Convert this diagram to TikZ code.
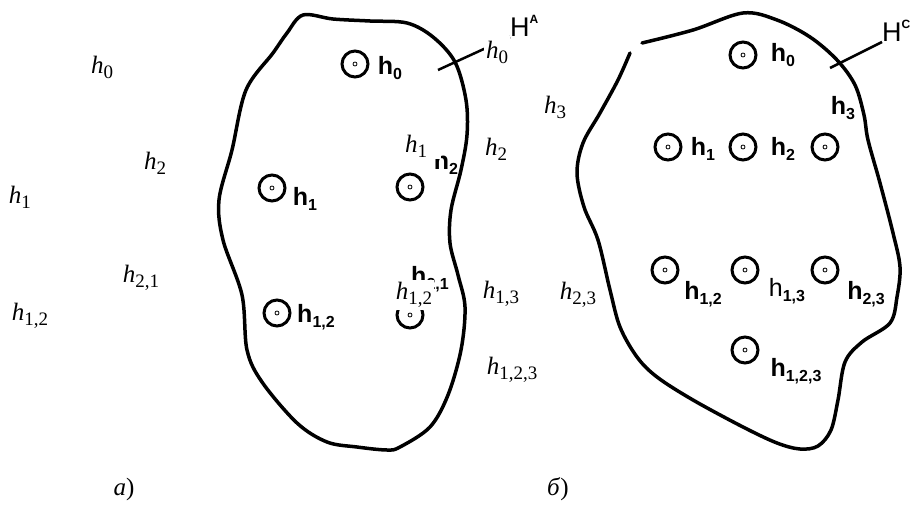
\documentclass[tikz,border=0pt]{standalone}
\usepackage{fontspec}
\setmainfont{Liberation Serif}
\newfontfamily\cadfont{Liberation Sans}
\usetikzlibrary{positioning}

% printed labels: italic h with a lowered index
\newcommand{\hs}[1]{\textit{h}\raisebox{-0.2em}{\fontsize{19}{19}\selectfont #1}}
% stencil labels inside the regions
\newcommand{\hc}[1]{h\raisebox{-0.22em}{\fontsize{16}{16}\selectfont #1}}

\begin{document}
\begin{tikzpicture}[x=1pt, y=-1pt,
    blob/.style={line width=3.5pt, line join=round, line cap=round},
    site/.style={circle, draw, line width=3pt, minimum size=26pt, inner sep=0pt,
      path picture={\draw[line width=0.8pt] (path picture bounding box.center) circle (2pt);}},
    cad/.style={font=\cadfont\bfseries\fontsize{25}{25}\selectfont, inner sep=0pt},
    lbl/.style={fill=white, inner sep=2pt, font=\fontsize{25}{25}\selectfont},
    leader/.style={line width=2.5pt}]
    \useasboundingbox (0,0) rectangle (918,506);

    % region a)
    \draw[blob] plot[smooth cycle, tension=0.55] coordinates {
      (303,15) (333,19) (370,21) (407,23) (433,37) (455,62) (466,100) (467,135)
      (461,170) (451,210) (450,243) (458,275) (465,307) (461,350) (448,395)
      (430,427) (400,447) (387,450) (357,447) (327,442) (297,423) (262,382)
      (247,350) (242,295) (223,240) (219,200) (232,150) (246,90) (273,53) (287,33)};

    \node[site] (a0) at (355,64) {};
    \node[site] (a1) at (272,188) {};
    \node[site] (a2) at (410,187) {};
    \node[site] (a12) at (277,313) {};
    \node[site] (a21) at (410,315) {};

    \node[cad] (ha0) at (390,68) {\hc{0}};
    \node[cad] (ha1) at (305,199) {\hc{1}};
    \node[cad] (ha2) at (446,163) {\hc{2}};
    \node[cad] (ha12) at (316,317) {\hc{1,2}};
    \node[cad] (ha21) at (430,279) {\hc{2,1}};
    \node[cad, font=\cadfont\fontsize{27}{27}\selectfont, anchor=south west] (HA) at (510,37)
      {H\raisebox{0.5em}{\fontsize{12}{12}\selectfont\bfseries A}};
    \coordinate (tA) at (438,70);
    \draw[leader] (tA) -- (HA.south west);

    % region b)
    \draw[blob] plot[smooth, tension=0.55] coordinates {
      (642,43) (693,30) (743,13) (777,20) (810,37) (837,60) (855,85) (864,115)
      (868,140) (880,183) (893,233) (900,267) (897,297) (890,323) (862,342)
      (845,362) (838,400) (831,430) (818,446) (800,449) (777,443) (743,427)
      (693,400) (657,377) (637,357) (620,327) (610,290) (598,240) (584,207)
      (577,173) (583,143) (600,113) (618,80) (630,53)};

    \node[site] (b0) at (743,55) {};
    \node[site] (b1) at (668,147) {};
    \node[site] (b2) at (743,147) {};
    \node[site] (b3) at (825,147) {};
    \node[site] (b12) at (665,270) {};
    \node[site] (b13) at (745,270) {};
    \node[site] (b23) at (825,270) {};
    \node[site] (b123) at (745,350) {};

    \node[cad] (hb0) at (783,55) {\hc{0}};
    \node[cad] (hb1) at (703,149) {\hc{1}};
    \node[cad] (hb2) at (783,149) {\hc{2}};
    \node[cad] (hb3) at (843,108) {\hc{3}};
    \node[cad] (hb12) at (703,294) {\hc{1,2}};
    \node[cad, font=\cadfont\fontsize{25}{25}\selectfont] (hb13) at (787,291) {h\raisebox{-0.22em}{\fontsize{16}{16}\selectfont\bfseries 1,3}};
    \node[cad] (hb23) at (866,294) {\hc{2,3}};
    \node[cad] (hb123) at (796,371) {\hc{1,2,3}};
    \node[cad, font=\cadfont\fontsize{27}{27}\selectfont, anchor=south west] (HC) at (882,42)
      {H\raisebox{0.5em}{\fontsize{12}{12}\selectfont\bfseries C}};
    \coordinate (tC) at (830,68);
    \draw[leader] (tC) -- (HC.south west);

    % printed labels
    \node[lbl] (p0) at (102,67) {\hs{0}};
    \node[lbl] (p2) at (155,163) {\hs{2}};
    \node[lbl] (p1) at (20,197) {\hs{1}};
    \node[lbl] (p21) at (141,278) {\hs{2,1}};
    \node[lbl] (p12) at (30,316) {\hs{1,2}};
    \node[lbl, inner ysep=5pt] (q0) at (497,52) {\hs{0}};
    \node[lbl, anchor=west, text width=34pt, align=left] (q1) at (403,146) {\hs{1}};
    \node[lbl] (q2) at (496,149) {\hs{2}};
    \node[lbl] (q3) at (555,107) {\hs{3}};
    \node[lbl] (q12) at (414,295) {\hs{1,2}};
    \node[lbl] (q13) at (501,294) {\hs{1,3}};
    \node[lbl] (q23) at (578,295) {\hs{2,3}};
    \node[lbl] (q123) at (512,370) {\hs{1,2,3}};

    \node[lbl] (capa) at (124,489) {\textit{а})};
    \node[lbl] (capb) at (558,489) {\textit{б})};
\end{tikzpicture}
\end{document}
